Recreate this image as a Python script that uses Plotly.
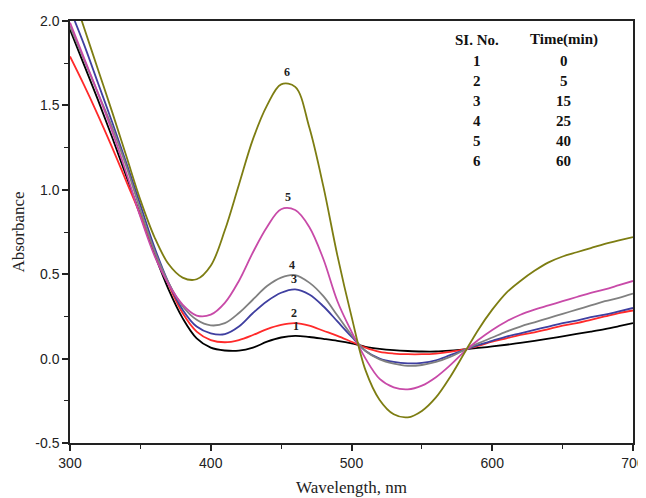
import plotly.graph_objects as go

wavelength = list(range(300, 701, 10))

abs_1 = [1.95, 1.74, 1.53, 1.31, 1.08, 0.85, 0.62, 0.41, 0.24, 0.12, 0.065, 0.048, 0.047, 0.065, 0.10, 0.125, 0.135, 0.128, 0.117, 0.105, 0.09,
         0.07, 0.058, 0.05, 0.045, 0.042, 0.042, 0.047, 0.055, 0.063, 0.072, 0.082, 0.093, 0.105, 0.118, 0.132, 0.146, 0.16, 0.175, 0.192, 0.21]
abs_2 = [1.79, 1.62, 1.44, 1.25, 1.05, 0.85, 0.64, 0.44, 0.27, 0.16, 0.11, 0.097, 0.11, 0.14, 0.175, 0.20, 0.21, 0.195, 0.165, 0.135, 0.10,
         0.065, 0.04, 0.03, 0.026, 0.026, 0.03, 0.04, 0.054, 0.075, 0.10, 0.12, 0.14, 0.155, 0.175, 0.195, 0.21, 0.23, 0.25, 0.27, 0.285]
abs_3 = [2.07, 1.86, 1.63, 1.40, 1.16, 0.91, 0.66, 0.45, 0.29, 0.19, 0.15, 0.145, 0.19, 0.27, 0.34, 0.39, 0.41, 0.38, 0.31, 0.22, 0.13,
         0.045, 0.0, -0.02, -0.028, -0.025, -0.01, 0.02, 0.05, 0.08, 0.105, 0.13, 0.15, 0.17, 0.19, 0.21, 0.225, 0.245, 0.26, 0.28, 0.30]
abs_4 = [1.97, 1.77, 1.57, 1.37, 1.14, 0.88, 0.64, 0.45, 0.31, 0.23, 0.197, 0.21, 0.27, 0.35, 0.43, 0.48, 0.495, 0.45, 0.37, 0.255, 0.14,
         0.045, -0.005, -0.03, -0.043, -0.038, -0.02, 0.01, 0.05, 0.09, 0.125, 0.16, 0.19, 0.215, 0.24, 0.265, 0.29, 0.315, 0.34, 0.36, 0.385]
abs_5 = [1.99, 1.78, 1.57, 1.345, 1.10, 0.84, 0.61, 0.44, 0.32, 0.255, 0.26, 0.33, 0.46, 0.63, 0.78, 0.885, 0.88, 0.78, 0.59, 0.34, 0.16,
         0.0, -0.12, -0.17, -0.182, -0.16, -0.11, -0.04, 0.04, 0.11, 0.17, 0.22, 0.26, 0.29, 0.315, 0.34, 0.365, 0.39, 0.41, 0.435, 0.46]
abs_6 = [2.21, 1.96, 1.71, 1.46, 1.20, 0.94, 0.72, 0.56, 0.48, 0.47, 0.55, 0.76, 1.03, 1.30, 1.50, 1.625, 1.61, 1.37, 1.02, 0.61, 0.25,
         -0.07, -0.245, -0.33, -0.348, -0.31, -0.23, -0.11, 0.03, 0.17, 0.29, 0.39, 0.46, 0.52, 0.57, 0.605, 0.63, 0.655, 0.68, 0.70, 0.72]

series = [abs_1, abs_2, abs_3, abs_4, abs_5, abs_6]
series_names = ["1", "2", "3", "4", "5", "6"]
colors = ["#000000", "#ff2a2a", "#3f3fa0", "#808080", "#c84aa8", "#7d7d12"]

y_tick_vals = [-0.5, 0.0, 0.5, 1.0, 1.5, 2.0]
y_tick_text = ["-0.5", "0.0", "0.5", "1.0", "1.5", "2.0"]

table_no = ["1", "2", "3", "4", "5", "6"]
table_time = ["0", "5", "15", "25", "40", "60"]

fig = go.Figure()
for vals, name, col in zip(series, series_names, colors):
    fig.add_trace(go.Scatter(x=wavelength, y=vals, mode="lines", name=name,
                             line=dict(color=col, width=1.8, shape="spline", smoothing=1.0),
                             showlegend=False, cliponaxis=True))


def peak_of(vals):
    # parabolic vertex around the grid maximum in the 430-480 nm band
    idx = [i for i, w in enumerate(wavelength) if 430 <= w <= 480]
    k = max(idx, key=lambda i: vals[i])
    y0, y1, y2 = vals[k - 1], vals[k], vals[k + 1]
    den = y0 - 2 * y1 + y2
    off = 0.5 * (y0 - y2) / den if den != 0 else 0.0
    step = wavelength[k + 1] - wavelength[k]
    return wavelength[k] + off * step, y1 - 0.25 * (y0 - y2) * off


for vals, name in zip(series, series_names):
    wpk, vpk = peak_of(vals)
    fig.add_annotation(x=wpk, y=vpk, text="<b>%s</b>" % name, showarrow=False, yanchor="bottom",
                       yshift=1, font=dict(family="Liberation Serif", size=12, color="#222"))

serif = "Liberation Serif"
col_x = [0.723, 0.877]
head_y = 0.956
row_step = 0.0474
tfont = dict(family=serif, size=15, color="#111")
fig.add_annotation(xref="paper", yref="paper", x=col_x[0], y=head_y, text="<b>SI. No.</b>",
                   showarrow=False, xanchor="center", yanchor="middle", font=tfont)
fig.add_annotation(xref="paper", yref="paper", x=col_x[1], y=head_y, text="<b>Time(min)</b>",
                   showarrow=False, xanchor="center", yanchor="middle", font=tfont)
for i, (n, t) in enumerate(zip(table_no, table_time)):
    yy = head_y - 0.05 - i * row_step
    fig.add_annotation(xref="paper", yref="paper", x=col_x[0], y=yy, text="<b>%s</b>" % n,
                       showarrow=False, xanchor="center", yanchor="middle", font=tfont)
    fig.add_annotation(xref="paper", yref="paper", x=col_x[1], y=yy, text="<b>%s</b>" % t,
                       showarrow=False, xanchor="center", yanchor="middle", font=tfont)

# page body has an 8px margin: size the figure so the plot area lands where the reference has it
fig.update_layout(
    width=638, height=490,
    margin=dict(l=62, r=13, t=13, b=55),
    plot_bgcolor="white", paper_bgcolor="white",
    xaxis=dict(range=[300, 700], dtick=100, tick0=300, ticks="outside", ticklen=6, tickwidth=1.5,
               showline=True, linecolor="#222", linewidth=1.5, mirror=True, showgrid=False, zeroline=False,
               automargin=False,
               minor=dict(dtick=50, tick0=300, ticks="outside", ticklen=4, tickwidth=1.2, tickcolor="#222"),
               tickcolor="#222",
               tickfont=dict(family="Liberation Sans", size=14, color="#222"),
               title=dict(text="Wavelength, nm", font=dict(family=serif, size=17, color="#222"), standoff=12)),
    yaxis=dict(range=[-0.5, 2.0], tickmode="array", tickvals=y_tick_vals, ticktext=y_tick_text,
               ticks="outside", ticklen=6, tickwidth=1.5,
               showline=True, linecolor="#222", linewidth=1.5, mirror=True, showgrid=False, zeroline=False,
               automargin=False,
               minor=dict(dtick=0.25, tick0=-0.5, ticks="outside", ticklen=4, tickwidth=1.2, tickcolor="#222"),
               tickcolor="#222",
               tickfont=dict(family="Liberation Sans", size=14, color="#222"),
               title=dict(text="Absorbance", font=dict(family=serif, size=17, color="#222"), standoff=6)),
)

fig.write_html("out.html")
